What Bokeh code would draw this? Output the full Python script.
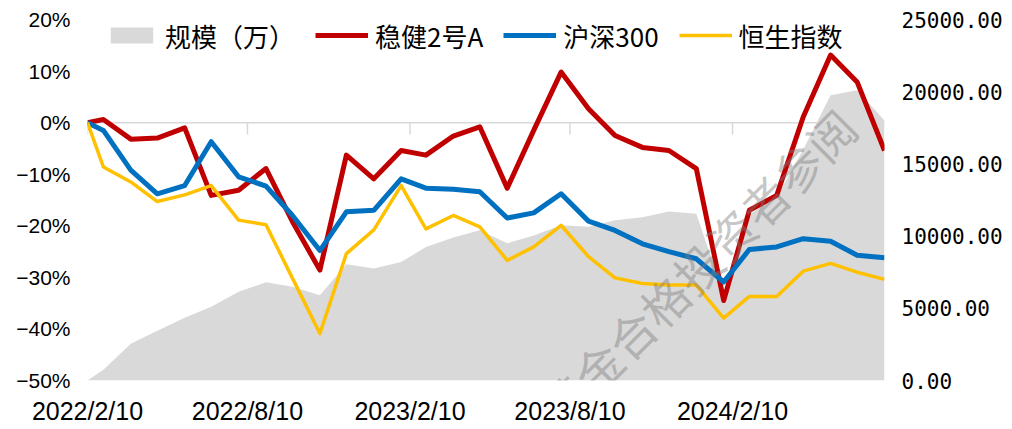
import pandas as pd
from bokeh.plotting import figure
from bokeh.models import (Range1d, LinearAxis, FixedTicker, NumeralTickFormatter,
                          Span, Legend, LegendItem, Label)
from bokeh.embed import file_html
from bokeh.resources import INLINE

# ---------------- data ----------------
dates = ["2022-02-10", "2022-02-28", "2022-03-31", "2022-04-30", "2022-05-31", "2022-06-30",
         "2022-07-31", "2022-08-31", "2022-09-30", "2022-10-31", "2022-11-30", "2022-12-31",
         "2023-01-31", "2023-02-28", "2023-03-31", "2023-04-30", "2023-05-31", "2023-06-30",
         "2023-07-31", "2023-08-31", "2023-09-30", "2023-10-31", "2023-11-30", "2023-12-31",
         "2024-01-31", "2024-02-29", "2024-03-31", "2024-04-30", "2024-05-31", "2024-06-30",
         "2024-07-31"]

wenjian = [0.0, 0.6, -3.2, -3.0, -1.0, -14.1, -13.1, -8.9, -19.2, -28.6, -6.3, -10.9,
           -5.4, -6.3, -2.6, -0.8, -12.7, -1.5, 9.8, 2.7, -2.5, -4.8, -5.4, -8.9,
           -34.5, -17.0, -14.1, 1.1, 13.1, 7.9, -5.4]

hs300 = [0.0, -1.5, -9.2, -13.8, -12.2, -3.7, -10.5, -12.3, -18.0, -24.8, -17.3, -17.0,
         -10.9, -12.7, -12.9, -13.4, -18.5, -17.5, -13.8, -19.1, -20.9, -23.5, -25.0, -26.4,
         -30.9, -24.6, -24.1, -22.5, -23.0, -25.7, -26.2]

hsi = [0.0, -8.6, -11.5, -15.3, -14.0, -12.2, -18.9, -19.8, -30.2, -40.9, -25.4, -20.8,
       -12.2, -20.6, -18.0, -20.2, -26.7, -24.1, -19.9, -26.0, -30.1, -31.2, -31.5, -31.5,
       -37.9, -33.7, -33.7, -28.8, -27.3, -29.0, -30.4]

aum = [0, 750, 2550, 3450, 4350, 5100, 6150, 6800, 6500, 5900, 8050, 7750,
       8200, 9250, 9900, 10400, 9500, 10050, 10750, 10650, 11100, 11300, 11700, 11550,
       6000, 11500, 12700, 16000, 19750, 20100, 18000]

tick_dates = ["2022-02-10", "2022-08-10", "2023-02-10", "2023-08-10", "2024-02-10"]
tick_labels = ["2022/2/10", "2022/8/10", "2023/2/10", "2023/8/10", "2024/2/10"]

left_ticks = [-50, -40, -30, -20, -10, 0, 10, 20]
right_ticks = [0, 5000, 10000, 15000, 20000, 25000]

series_names = ["规模（万）", "稳健2号A", "沪深300", "恒生指数"]
watermark = "基金合格投资者参阅"

# ---------------- derived ----------------
d = pd.to_datetime(dates)
start = d[0]
x = [int(v) for v in (d - start).days]
tick_x = [int(v) for v in (pd.to_datetime(tick_dates) - start).days]

AX_FONT = "Liberation Sans"
CJK_FONT = "Noto Sans CJK SC"

p = figure(frame_width=797, frame_height=361, output_backend="svg", toolbar_location=None,
           x_range=Range1d(0, x[-1]), y_range=Range1d(-50, 20),
           min_border_left=87, min_border_right=112, min_border_top=19, min_border_bottom=46)
p.extra_y_ranges = {"aum": Range1d(0, 25000)}
p.outline_line_color = None
p.xgrid.visible = False
p.ygrid.visible = False
p.background_fill_color = "white"
p.border_fill_color = "white"

# zero axis line & tick marks (behind the area)
p.add_layout(Span(location=0, dimension="width", line_color="#D9D9D9", line_width=1.5,
                  level="underlay"))
p.segment(x0=tick_x, y0=[0] * len(tick_x), x1=tick_x, y1=[-2.3] * len(tick_x),
          line_color="#D9D9D9", line_width=1.5, level="underlay")

r_area = p.varea(x=x, y1=[0] * len(x), y2=aum, y_range_name="aum", fill_color="#D9D9D9")
r_red = p.line(x, wenjian, line_color="#C00000", line_width=5, line_join="round")
r_blue = p.line(x, hs300, line_color="#0070C0", line_width=5, line_join="round")
r_yel = p.line(x, hsi, line_color="#FFC000", line_width=3.5, line_join="round")

# x axis
xa = p.xaxis[0]
xa.ticker = FixedTicker(ticks=tick_x)
xa.major_label_overrides = {t: s for t, s in zip(tick_x, tick_labels)}
xa.axis_line_color = None
xa.major_tick_line_color = None
xa.minor_tick_line_color = None
xa.major_tick_out = 0
xa.major_tick_in = 0
xa.major_label_standoff = 16
xa.major_label_text_font = AX_FONT
xa.major_label_text_font_size = "25px"
xa.major_label_text_color = "#000000"

# left axis
ya = p.yaxis[0]
ya.ticker = FixedTicker(ticks=left_ticks)
ya.major_label_overrides = {v: (f"{v}%".replace("-", "\u2212")) for v in left_ticks}
ya.axis_line_color = None
ya.major_tick_line_color = None
ya.minor_tick_line_color = None
ya.major_tick_out = 0
ya.major_label_standoff = 17
ya.major_label_text_font = AX_FONT
ya.major_label_text_font_size = "21px"
ya.major_label_text_color = "#000000"

# right axis
ra = LinearAxis(y_range_name="aum", ticker=FixedTicker(ticks=right_ticks),
                formatter=NumeralTickFormatter(format="0.00"))
ra.axis_line_color = None
ra.major_tick_line_color = None
ra.minor_tick_line_color = None
ra.major_tick_out = 0
ra.major_label_standoff = 17
ra.major_label_text_font = "DejaVu Sans Mono"
ra.major_label_text_font_size = "21px"
ra.major_label_text_color = "#000000"
p.add_layout(ra, "right")

legend = Legend(items=[LegendItem(label=series_names[0], renderers=[r_area]),
                       LegendItem(label=series_names[1], renderers=[r_red]),
                       LegendItem(label=series_names[2], renderers=[r_blue]),
                       LegendItem(label=series_names[3], renderers=[r_yel])],
                orientation="horizontal", location=(18, 325),
                glyph_width=53, glyph_height=20, label_standoff=7, spacing=20,
                padding=0, margin=0, border_line_color=None, background_fill_alpha=0,
                label_text_font=CJK_FONT, label_text_font_size="26px",
                label_text_color="#000000", label_height=40)
p.add_layout(legend)

p.add_layout(Label(x=690, y=-28, text=watermark, angle=45, angle_units="deg",
                   text_align="center", text_baseline="middle", text_font=CJK_FONT,
                   text_font_size="47px", text_color="#7F7F7F", text_alpha=0.45))

open("out.html", "w").write(file_html(p, INLINE))
